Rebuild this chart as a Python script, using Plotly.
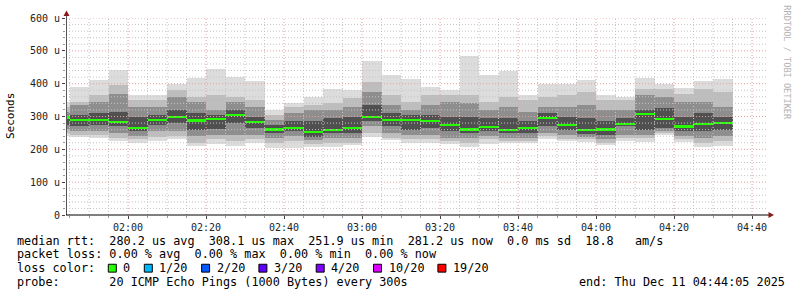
import plotly.graph_objects as go
import pandas as pd

# ---------------- data (values in microseconds) ----------------
interval_end = pd.date_range("2025-12-11 01:45", periods=35, freq="5min")

ping_min = [240, 237, 234, 225, 220, 224, 232, 210, 216, 210, 220, 203, 205, 206, 208, 212, 238, 227,
            219, 218, 217, 208, 215, 220, 218, 233, 227, 225, 212, 225, 223, 245, 225, 207, 210]
ping_p05 = [250, 245, 243, 235, 230, 237, 240, 220, 230, 225, 230, 220, 225, 217, 220, 220, 250, 235,
            230, 230, 225, 220, 230, 225, 225, 240, 233, 230, 220, 235, 235, 250, 230, 220, 225]
ping_p15 = [262, 255, 255, 250, 240, 255, 255, 240, 245, 245, 245, 235, 240, 227, 235, 235, 270, 250,
            245, 245, 235, 235, 240, 235, 235, 250, 245, 237, 230, 245, 245, 255, 240, 235, 240]
ping_p30 = [275, 270, 273, 270, 255, 275, 280, 260, 262, 280, 265, 250, 255, 237, 250, 250, 285, 270,
            260, 265, 255, 250, 255, 250, 250, 270, 260, 247, 245, 270, 260, 265, 255, 255, 260]
median_rtt = [297, 289, 289, 283, 265, 290, 298, 288, 292, 305, 283, 260, 264, 252, 259, 266, 298, 289,
              289, 287, 275, 260, 267, 258, 265, 295, 275, 258, 260, 277, 308, 293, 270, 278, 281]
ping_p70 = [303, 305, 310, 315, 300, 305, 320, 310, 305, 320, 300, 275, 285, 285, 295, 300, 335, 310,
            305, 305, 300, 300, 295, 295, 285, 310, 300, 295, 285, 295, 320, 325, 300, 310, 300]
ping_p85 = [315, 335, 345, 370, 330, 330, 360, 345, 320, 345, 330, 290, 310, 320, 320, 330, 375, 335,
            320, 335, 345, 340, 320, 330, 315, 330, 330, 335, 320, 320, 365, 360, 345, 345, 330]
ping_p95 = [330, 345, 365, 395, 350, 350, 380, 360, 365, 360, 350, 305, 330, 335, 340, 355, 405, 365,
            345, 365, 365, 365, 345, 360, 350, 360, 365, 375, 350, 350, 385, 385, 370, 385, 375]
ping_max = [345, 390, 410, 442, 367, 365, 400, 417, 445, 420, 408, 320, 342, 358, 383, 382, 470, 425,
            415, 390, 380, 483, 425, 440, 367, 400, 400, 410, 365, 360, 417, 400, 387, 408, 413]

y_tick_vals = [0, 100, 200, 300, 400, 500, 600]
y_tick_text = ["0", "100 u", "200 u", "300 u", "400 u", "500 u", "600 u"]

loss_labels = ["0", "1/20", "2/20", "3/20", "4/20", "10/20", "19/20"]
loss_colors = ["#26ff00", "#00b8ff", "#0059ff", "#5e00ff", "#7e00ff", "#dd00ff", "#ff0000"]

line_rtt = "median rtt:  280.2 us avg  308.1 us max  251.9 us min  281.2 us now  0.0 ms sd  18.8   am/s"
line_loss = "packet loss: 0.00 % avg  0.00 % max  0.00 % min  0.00 % now"
line_probe = "probe:       20 ICMP Echo Pings (1000 Bytes) every 300s"
line_end = "end: Thu Dec 11 04:44:05 2025"

t_start = pd.Timestamp("2025-12-11 01:44:05")
t_end = pd.Timestamp("2025-12-11 04:44:05")

# ---------------- figure ----------------
centers = interval_end - pd.Timedelta(seconds=150)
W = 300000  # 5 min in ms

shades = ["#dcdcdc", "#bdbdbd", "#8e8e8e", "#505050"]
bands = [
    (ping_min, ping_p05, shades[0]), (ping_p05, ping_p15, shades[1]),
    (ping_p15, ping_p30, shades[2]), (ping_p30, median_rtt, shades[3]),
    (median_rtt, ping_p70, shades[3]), (ping_p70, ping_p85, shades[2]),
    (ping_p85, ping_p95, shades[1]), (ping_p95, ping_max, shades[0]),
]

fig = go.Figure()
for lo, hi, col in bands:
    fig.add_trace(go.Bar(x=centers, y=[h - l for l, h in zip(lo, hi)], base=lo, width=W,
                         marker=dict(color=col, line=dict(width=0)), hoverinfo="skip"))
fig.add_trace(go.Bar(x=centers, y=[7] * len(median_rtt), base=[m - 3.5 for m in median_rtt], width=W,
                     marker=dict(color="#26ff00", line=dict(width=0)), hoverinfo="skip"))

PL, PW, PT, PH = 66, 702, 15, 200


def px(x):
    return (x - PL) / PW


def py(y):
    return (PT + PH - y) / PH


shapes = []
# grid (drawn above the smoke, rrdtool style)
minor_c, major_c = "#c4c4c4", "#e4a0a0"
for v in range(20, 601, 20):
    shapes.append(dict(type="line", xref="paper", yref="y", x0=0, x1=1, y0=v, y1=v, layer="above",
                       line=dict(color=major_c if v % 100 == 0 else minor_c, width=1, dash="1px,2px")))
for t in pd.date_range("2025-12-11 01:45", "2025-12-11 04:40", freq="5min"):
    major = (t.minute % 20 == 0)
    shapes.append(dict(type="line", xref="x", yref="paper", x0=t, x1=t, y0=0, y1=1, layer="above",
                       line=dict(color=major_c if major else minor_c, width=1, dash="1px,2px")))

# axis arrows
arrow_c = "#8b1a1a"
shapes.append(dict(type="line", xref="paper", yref="paper", x0=px(66.5), x1=px(66.5), y0=py(215), y1=py(11),
                   line=dict(color="#555", width=1), layer="above"))
shapes.append(dict(type="line", xref="paper", yref="paper", x0=px(66), x1=px(769), y0=py(215), y1=py(215),
                   line=dict(color="#000", width=1), layer="above"))
shapes.append(dict(type="path", xref="paper", yref="paper", layer="above",
                   path=f"M {px(66.5)},{py(7.5)} L {px(63.5)},{py(13)} L {px(69.5)},{py(13)} Z",
                   fillcolor=arrow_c, line=dict(width=0)))
shapes.append(dict(type="path", xref="paper", yref="paper", layer="above",
                   path=f"M {px(774)},{py(215)} L {px(768.5)},{py(212)} L {px(768.5)},{py(218)} Z",
                   fillcolor=arrow_c, line=dict(width=0)))

annotations = []
mono = "DejaVu Sans Mono"
CW = 7.1


def txt(x, y, s, size=11.8, color="#000"):
    annotations.append(dict(x=px(x), y=py(y), xref="paper", yref="paper", text=s.replace(" ", "\u00a0"),
                            showarrow=False, xanchor="left", yanchor="middle", borderpad=0,
                            font=dict(family=mono, size=size, color=color)))


txt(16, 241, line_rtt)
txt(16, 255, line_loss)
txt(16, 269, "loss color:")
txt(16, 283, line_probe)
txt(578, 283, line_end)

sx = 16 + 13 * CW
for lab, col in zip(loss_labels, loss_colors):
    shapes.append(dict(type="rect", xref="paper", yref="paper", x0=px(sx), x1=px(sx + 8),
                       y0=py(273), y1=py(265), fillcolor=col, line=dict(color="#000", width=1)))
    txt(sx + 14, 269, lab)
    sx += 14.7 + (len(lab) + 2) * CW

# y title and watermark
annotations.append(dict(x=px(10.5), y=py(115), xref="paper", yref="paper", text="Seconds", textangle=-90,
                        showarrow=False, xanchor="center", yanchor="middle",
                        font=dict(family=mono, size=11, color="#000")))
annotations.append(dict(x=px(787), y=py(60), xref="paper", yref="paper", text="RRDTOOL / TOBI OETIKER",
                        textangle=90, showarrow=False, xanchor="center", yanchor="middle",
                        font=dict(family=mono, size=8.6, color="#b4b4b4")))

fig.update_layout(
    width=797, height=297, margin=dict(l=PL, r=797 - PL - PW, t=PT, b=297 - PT - PH),
    paper_bgcolor="white", plot_bgcolor="white", barmode="overlay", bargap=0, showlegend=False,
    shapes=shapes, annotations=annotations,
    xaxis=dict(type="date", range=[t_start, t_end], showgrid=False, zeroline=False,
               tick0="2025-12-11 00:00", dtick=1200000, tickformat="%H:%M",
               ticks="outside", ticklen=3, tickcolor="#444", showline=False,
               tickfont=dict(family=mono, size=10, color="#222"),
               minor=dict(dtick=300000, ticks="outside", ticklen=2, tickcolor="#999", showgrid=False)),
    yaxis=dict(range=[0, 600], tickvals=y_tick_vals, ticktext=y_tick_text, showgrid=False, zeroline=False,
               ticks="outside", ticklen=3, tickcolor="#444", showline=False,
               tickfont=dict(family=mono, size=10, color="#222"),
               minor=dict(dtick=20, ticks="outside", ticklen=2, tickcolor="#999", showgrid=False)),
)

fig.write_html("out.html")
